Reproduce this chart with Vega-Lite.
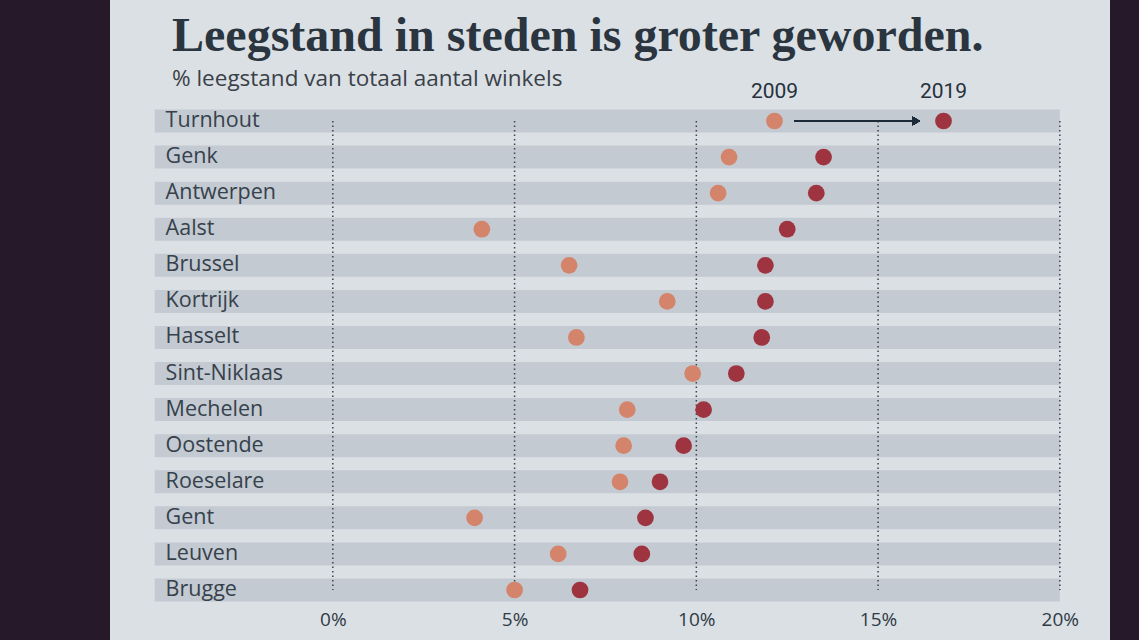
{
  "$schema": "https://vega.github.io/schema/vega-lite/v6.json",
  "description": "Leegstand in steden 2009 vs 2019",
  "width": 1139,
  "height": 640,
  "autosize": {"type": "fit", "contains": "padding"},
  "padding": {"left": 110, "right": 29, "top": 0, "bottom": 0},
  "background": "#261a2a",
  "title": {
    "text": "Leegstand in steden is groter geworden.",
    "subtitle": "% leegstand van totaal aantal winkels",
    "anchor": "start",
    "frame": "group",
    "orient": "top",
    "offset": -90,
    "dx": 62,
    "font": "Liberation Serif",
    "fontSize": 48,
    "fontWeight": "bold",
    "color": "#2a3540",
    "subtitleFont": "Open Sans",
    "subtitleFontSize": 22.5,
    "subtitleColor": "#3a4148",
    "subtitlePadding": 7
  },
  "datasets": {
    "leegstand": [
      {"stad": "Turnhout", "jaar": "2009", "pct": 12.15},
      {"stad": "Turnhout", "jaar": "2019", "pct": 16.8},
      {"stad": "Genk", "jaar": "2009", "pct": 10.9},
      {"stad": "Genk", "jaar": "2019", "pct": 13.5},
      {"stad": "Antwerpen", "jaar": "2009", "pct": 10.6},
      {"stad": "Antwerpen", "jaar": "2019", "pct": 13.3},
      {"stad": "Aalst", "jaar": "2009", "pct": 4.1},
      {"stad": "Aalst", "jaar": "2019", "pct": 12.5},
      {"stad": "Brussel", "jaar": "2009", "pct": 6.5},
      {"stad": "Brussel", "jaar": "2019", "pct": 11.9},
      {"stad": "Kortrijk", "jaar": "2009", "pct": 9.2},
      {"stad": "Kortrijk", "jaar": "2019", "pct": 11.9},
      {"stad": "Hasselt", "jaar": "2009", "pct": 6.7},
      {"stad": "Hasselt", "jaar": "2019", "pct": 11.8},
      {"stad": "Sint-Niklaas", "jaar": "2009", "pct": 9.9},
      {"stad": "Sint-Niklaas", "jaar": "2019", "pct": 11.1},
      {"stad": "Mechelen", "jaar": "2009", "pct": 8.1},
      {"stad": "Mechelen", "jaar": "2019", "pct": 10.2},
      {"stad": "Oostende", "jaar": "2009", "pct": 8.0},
      {"stad": "Oostende", "jaar": "2019", "pct": 9.65},
      {"stad": "Roeselare", "jaar": "2009", "pct": 7.9},
      {"stad": "Roeselare", "jaar": "2019", "pct": 9.0},
      {"stad": "Gent", "jaar": "2009", "pct": 3.9},
      {"stad": "Gent", "jaar": "2019", "pct": 8.6},
      {"stad": "Leuven", "jaar": "2009", "pct": 6.2},
      {"stad": "Leuven", "jaar": "2019", "pct": 8.5},
      {"stad": "Brugge", "jaar": "2009", "pct": 5.0},
      {"stad": "Brugge", "jaar": "2019", "pct": 6.8}
    ],
    "ticks": [
      {"pct": 0}, {"pct": 5}, {"pct": 10}, {"pct": 15}, {"pct": 20}
    ]
  },
  "data": {"name": "leegstand"},
  "config": {
    "view": {"fill": "#dbe0e4", "stroke": null},
    "text": {"font": "Open Sans"}
  },
  "encoding": {
    "y": {
      "field": "stad",
      "type": "nominal",
      "scale": {
        "type": "point",
        "padding": 0,
        "range": [121, 590],
        "domain": ["Turnhout", "Genk", "Antwerpen", "Aalst", "Brussel", "Kortrijk", "Hasselt", "Sint-Niklaas", "Mechelen", "Oostende", "Roeselare", "Gent", "Leuven", "Brugge"]
      },
      "axis": null
    }
  },
  "layer": [
    {
      "transform": [{"filter": "datum.jaar == '2009'"}],
      "mark": {"type": "rule", "strokeWidth": 23, "strokeCap": "butt", "color": "#c3cad1"},
      "encoding": {
        "x": {"datum": -4.9, "type": "quantitative", "scale": {"domain": [-6.13, 21.38], "nice": false, "zero": false}, "axis": {
          "values": [0, 5, 10, 15, 20],
          "labelExpr": "datum.value + '%'",
          "orient": "bottom",
          "offset": -34,
          "domain": false,
          "ticks": false,
          "grid": false,
          "labelFont": "Open Sans",
          "labelFontSize": 19,
          "labelColor": "#2f3a45",
          "labelPadding": 4,
          "title": null
        }},
        "x2": {"datum": 20}
      }
    },
    {
      "data": {"name": "ticks"},
      "mark": {"type": "rule", "strokeDash": [1.5, 3], "strokeWidth": 1.5, "color": "#3a4550"},
      "encoding": {
        "x": {"field": "pct", "type": "quantitative"},
        "y": {"datum": "Turnhout"},
        "y2": {"datum": "Brugge"}
      }
    },
    {
      "transform": [{"filter": "datum.jaar == '2009'"}],
      "mark": {"type": "text", "align": "left", "baseline": "middle", "fontSize": 21.5, "color": "#36414c"},
      "encoding": {
        "x": {"datum": -4.6},
        "text": {"field": "stad"}
      }
    },
    {
      "mark": {"type": "circle", "size": 280, "opacity": 1},
      "encoding": {
        "x": {"field": "pct", "type": "quantitative"},
        "color": {
          "field": "jaar",
          "type": "nominal",
          "scale": {"domain": ["2009", "2019"], "range": ["#d4846b", "#9f3441"]},
          "legend": null
        }
      }
    },
    {
      "transform": [{"filter": "datum.stad == 'Turnhout'"}],
      "mark": {"type": "text", "baseline": "middle", "dy": -29, "fontSize": 21, "font": "Roboto", "color": "#26313c"},
      "encoding": {
        "x": {"field": "pct", "type": "quantitative"},
        "text": {"field": "jaar"}
      }
    },
    {
      "mark": {"type": "rule", "strokeWidth": 1.6, "color": "#1e2b38"},
      "encoding": {
        "x": {"datum": 12.7},
        "x2": {"datum": 16.05},
        "y": {"datum": "Turnhout"}
      }
    },
    {
      "mark": {"type": "point", "shape": "triangle-right", "filled": true, "size": 70, "color": "#1e2b38", "opacity": 1},
      "encoding": {
        "x": {"datum": 16.05},
        "y": {"datum": "Turnhout"}
      }
    }
  ]
}
